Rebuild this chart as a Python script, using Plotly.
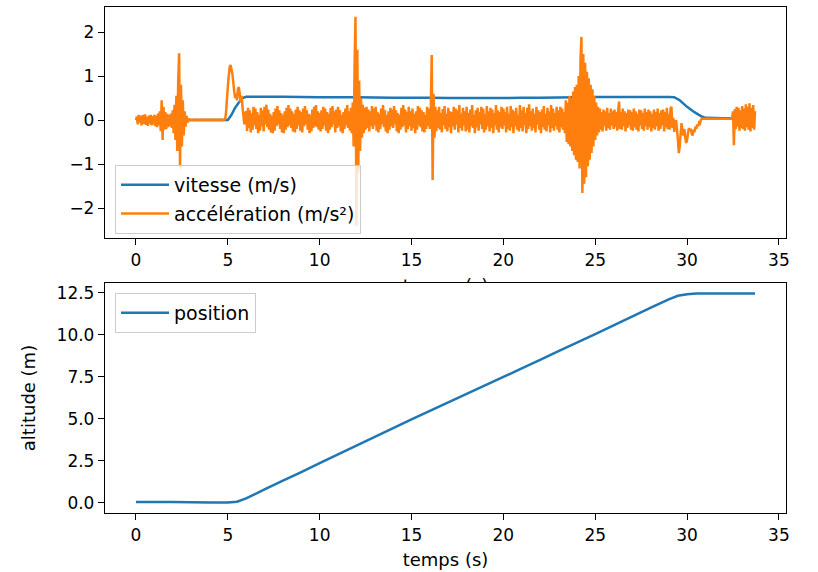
import numpy as np
import plotly.graph_objects as go

# ---------------- data ----------------
# acceleration sampled every 0.05 s from t = 0.00 to 33.70 s (values read from the picture)
acc_step = 0.05
acceleration = [
    # 0 s
    0.00, 0.08, -0.10, 0.12, -0.06, 0.10, -0.12, 0.05, 0.11, -0.09,
    0.13, -0.11, 0.07, -0.13, 0.10, -0.08, 0.12, -0.12, 0.09, -0.10,
    # 1 s
    0.12, -0.14, 0.10, -0.16, 0.15, -0.12, 0.20, -0.25, 0.45, -0.45,
    0.30, -0.22, 0.18, -0.20, 0.14, -0.16, 0.12, -0.14, 0.15, -0.18,
    # 2 s
    0.22, -0.30, 0.35, -0.45, 0.55, -0.70, 0.90, 1.52, -1.07, 0.80,
    -0.60, 0.45, -0.35, 0.20, -0.15, 0.10, -0.06, 0.04, -0.02, 0.01,
    # 3 s
    0.01, 0.00, 0.01, 0.00, 0.01, 0.00, 0.01, 0.00, 0.01, 0.00,
    0.01, 0.00, 0.01, 0.00, 0.01, 0.00, 0.01, 0.00, 0.01, 0.00,
    # 4 s
    0.01, 0.00, 0.01, 0.00, 0.01, 0.00, 0.01, 0.00, 0.01, 0.00,
    0.01, 0.00, 0.01, 0.00, 0.01, 0.00, 0.01, 0.02, 0.15, 0.45,
    # 5 s
    0.75, 1.00, 1.20, 1.25, 1.15, 1.05, 0.85, 0.65, 0.50, 0.60,
    0.45, 0.70, 0.75, 0.60, 0.40, 0.55, 0.30, 0.10, -0.10, 0.15,
    # 6 s
    0.20, -0.25, 0.28, -0.18, 0.22, -0.28, 0.15, -0.22, 0.30, -0.12,
    0.26, -0.20, 0.18, -0.30, 0.12, -0.24, 0.28, -0.14, 0.22, -0.26,
    # 7 s
    0.30, -0.10, 0.35, -0.16, 0.24, -0.22, 0.14, -0.28, 0.10, -0.30,
    0.18, -0.24, 0.26, -0.14, 0.32, -0.10, 0.22, -0.20, 0.16, -0.28,
    # 8 s
    0.12, -0.30, 0.20, -0.22, 0.28, -0.16, 0.34, -0.12, 0.26, -0.18,
    0.20, -0.26, 0.14, -0.28, 0.24, -0.20, 0.30, -0.12, 0.22, -0.24,
    # 9 s
    0.18, -0.28, 0.26, -0.14, 0.32, -0.10, 0.22, -0.22, 0.14, -0.30,
    0.12, -0.26, 0.24, -0.18, 0.30, -0.14, 0.34, -0.16, 0.20, -0.22,
    # 10 s
    0.16, -0.26, 0.22, -0.20, 0.30, -0.12, 0.26, -0.24, 0.18, -0.30,
    0.14, -0.22, 0.28, -0.16, 0.32, -0.10, 0.20, -0.28, 0.24, -0.18,
    # 11 s
    0.30, -0.14, 0.22, -0.26, 0.12, -0.30, 0.18, -0.20, 0.26, -0.12,
    0.34, -0.18, 0.20, -0.24, 0.28, -0.30, 0.40, -0.60, 1.20, 2.35,
    # 12 s
    -2.40, 1.60, -1.20, 0.90, -0.70, 0.50, -0.40, 0.35, -0.30, 0.28,
    -0.22, 0.30, -0.18, 0.24, -0.26, 0.20, -0.14, 0.32, -0.20, 0.26,
    # 13 s
    -0.12, 0.30, -0.24, 0.18, -0.28, 0.14, -0.20, 0.26, -0.10, 0.34,
    -0.16, 0.22, -0.26, 0.12, -0.30, 0.20, -0.22, 0.28, -0.14, 0.24,
    # 14 s
    -0.18, 0.32, -0.10, 0.22, -0.26, 0.16, -0.30, 0.12, -0.22, 0.28,
    -0.16, 0.34, -0.12, 0.24, -0.28, 0.18, -0.20, 0.30, -0.14, 0.20,
    # 15 s
    -0.24, 0.26, -0.18, 0.14, -0.30, 0.20, -0.22, 0.32, -0.12, 0.28,
    -0.16, 0.22, -0.26, 0.18, -0.28, 0.12, -0.20, 0.30, -0.14, 0.26,
    # 16 s
    -0.20, 0.30, 1.48, -1.36, 0.60, -0.40, 0.30, -0.25, 0.22, -0.18,
    0.30, -0.22, 0.16, -0.28, 0.25, -0.12, 0.32, -0.20, 0.14, -0.26,
    # 17 s
    0.28, -0.16, 0.20, -0.30, 0.18, -0.14, 0.30, -0.22, 0.26, -0.10,
    0.22, -0.28, 0.34, -0.18, 0.15, -0.24, 0.28, -0.12, 0.20, -0.26,
    # 18 s
    0.30, -0.22, 0.16, -0.28, 0.24, -0.14, 0.34, -0.18, 0.12, -0.30,
    0.22, -0.16, 0.28, -0.24, 0.18, -0.10, 0.30, -0.20, 0.26, -0.28,
    # 19 s
    0.14, -0.22, 0.32, -0.14, 0.20, -0.26, 0.28, -0.18, 0.24, -0.30,
    0.16, -0.12, 0.34, -0.22, 0.22, -0.28, 0.18, -0.16, 0.30, -0.20,
    # 20 s
    0.26, -0.12, 0.18, -0.28, 0.30, -0.20, 0.14, -0.24, 0.32, -0.16,
    0.24, -0.30, 0.20, -0.14, 0.28, -0.22, 0.12, -0.26, 0.34, -0.18,
    # 21 s
    0.22, -0.26, 0.30, -0.12, 0.16, -0.30, 0.28, -0.20, 0.36, -0.14,
    0.20, -0.24, 0.26, -0.18, 0.14, -0.28, 0.30, -0.10, 0.22, -0.22,
    # 22 s
    0.18, -0.30, 0.24, -0.16, 0.32, -0.22, 0.14, -0.26, 0.28, -0.12,
    0.20, -0.28, 0.34, -0.18, 0.26, -0.24, 0.16, -0.14, 0.30, -0.22,
    # 23 s
    0.22, -0.28, 0.30, -0.16, 0.26, -0.22, 0.18, -0.30, 0.45, -0.50,
    0.40, -0.55, 0.55, -0.60, 0.50, -0.70, 0.65, -0.80, 0.75, -0.90,
    # 24 s
    0.80, -0.95, 1.00, -1.10, 1.40, 1.89, -1.66, 1.50, -1.45, 1.30,
    -1.30, 1.10, -1.05, 0.95, -0.90, 0.80, -0.75, 0.70, -0.60, 0.55,
    # 25 s
    -0.45, 0.40, -0.35, 0.30, -0.28, 0.26, -0.22, 0.18, -0.26, 0.24,
    -0.14, 0.20, -0.24, 0.28, -0.18, 0.16, -0.22, 0.26, -0.12, 0.20,
    # 26 s
    -0.20, 0.24, -0.16, 0.18, -0.24, 0.22, 0.42, -0.20, 0.18, -0.22,
    0.26, -0.14, 0.20, -0.26, 0.16, -0.18, 0.24, -0.12, 0.22, -0.22,
    # 27 s
    0.18, -0.24, 0.26, -0.16, 0.20, -0.22, 0.14, -0.26, 0.24, -0.12,
    0.22, -0.20, 0.16, -0.24, 0.26, -0.14, 0.18, -0.22, 0.24, -0.16,
    # 28 s
    0.20, -0.26, 0.14, -0.18, 0.24, -0.22, 0.18, -0.14, 0.26, -0.24,
    0.16, -0.20, 0.22, -0.12, 0.24, -0.26, 0.18, -0.16, 0.28, -0.20,
    # 29 s
    0.14, -0.22, 0.26, 0.30, -0.18, 0.05, -0.27, -0.10, 0.00, -0.20,
    -0.45, -0.75, -0.60, -0.30, -0.07, -0.25, -0.35, -0.20, -0.40, -0.52,
    # 30 s
    -0.45, -0.30, -0.18, -0.25, -0.20, -0.30, -0.35, -0.22, -0.28, -0.15,
    -0.20, -0.10, -0.14, -0.06, -0.08, 0.00, 0.03, 0.03, 0.03, 0.03,
    # 31 s
    0.03, 0.03, 0.03, 0.03, 0.03, 0.03, 0.03, 0.03, 0.03, 0.03,
    0.03, 0.03, 0.03, 0.03, 0.03, 0.03, 0.03, 0.03, 0.03, 0.03,
    # 32 s
    0.03, 0.03, 0.03, 0.03, 0.03, 0.03, 0.03, 0.03, 0.03, 0.03,
    0.20, -0.57, 0.25, -0.20, 0.30, -0.15, 0.28, -0.24, 0.22, -0.18,
    # 33 s
    0.32, -0.20, 0.26, -0.24, 0.36, -0.16, 0.30, -0.22, 0.38, -0.26,
    0.28, -0.18, 0.34, -0.22, 0.20,
]
acc_time = np.round(np.arange(len(acceleration)) * acc_step, 3)

vit_time = [0, 2, 4, 5.0, 5.2, 5.4, 5.6, 5.8, 6.0, 7, 8, 9, 10, 11, 12, 13, 14, 15, 16, 17,
            18, 19, 20, 21, 22, 23, 24, 25, 26, 27, 28, 29, 29.3, 29.6, 30.0, 30.4, 30.8,
            31.0, 32, 33, 33.7]
vitesse = [0, 0, 0, 0, 0.12, 0.28, 0.40, 0.50, 0.53, 0.53, 0.53, 0.525, 0.52, 0.52, 0.52,
           0.515, 0.51, 0.51, 0.505, 0.50, 0.50, 0.50, 0.50, 0.505, 0.51, 0.515, 0.52, 0.525,
           0.525, 0.525, 0.525, 0.525, 0.52, 0.45, 0.30, 0.18, 0.08, 0.05, 0.04, 0.04, 0.04]

pos_time = [0, 1, 2, 3, 4, 5, 5.5, 6, 7, 8, 9, 10, 11, 12, 13, 14, 15, 16, 17, 18, 19, 20,
            21, 22, 23, 24, 25, 26, 27, 28, 29, 29.5, 30, 30.5, 31, 32, 33, 33.7]
position = [0.04, 0.035, 0.03, 0.02, 0.01, 0.0, 0.05, 0.25, 0.78, 1.30, 1.82, 2.35, 2.87,
            3.39, 3.91, 4.43, 4.95, 5.46, 5.97, 6.47, 6.98, 7.48, 7.99, 8.50, 9.01, 9.52,
            10.03, 10.55, 11.07, 11.59, 12.10, 12.31, 12.40, 12.44, 12.45, 12.45, 12.45, 12.45]

x_ticks = [0, 5, 10, 15, 20, 25, 30, 35]
top_y_ticks = [-2, -1, 0, 1, 2]
bottom_y_ticks = [0.0, 2.5, 5.0, 7.5, 10.0, 12.5]

# ---------------- figure ----------------
BLUE = "#1f77b4"
ORANGE = "#ff7f0e"
FONT = "DejaVu Sans"
FS = 17      # tick labels
FS_T = 18    # axis titles
FS_L = 19    # legend
LW = 2.5

fig = go.Figure()
fig.add_trace(go.Scatter(x=vit_time, y=vitesse, mode="lines", name="vitesse (m/s)",
                         line=dict(color=BLUE, width=LW, simplify=False), xaxis="x", yaxis="y",
                         legend="legend", legendgroup="a"))
fig.add_trace(go.Scatter(x=acc_time, y=acceleration, mode="lines", name="accélération (m/s²)",
                         line=dict(color=ORANGE, width=LW, simplify=False), xaxis="x", yaxis="y",
                         legend="legend", legendgroup="b"))
fig.add_trace(go.Scatter(x=pos_time, y=position, mode="lines", name="position",
                         line=dict(color=BLUE, width=LW, simplify=False), xaxis="x2", yaxis="y2",
                         legend="legend2"))
# x-label of the top panel, mostly hidden behind the lower panel
fig.add_trace(go.Scatter(x=[0.5], y=[-0.35], mode="text", text=["temps (s)"],
                         textfont=dict(family=FONT, size=FS_T, color="black"),
                         xaxis="x3", yaxis="y3", showlegend=False, cliponaxis=True,
                         hoverinfo="skip"))

axis_common = dict(showline=True, mirror=True, linecolor="black", linewidth=1.3,
                   ticks="outside", ticklen=6, tickwidth=1.3, tickcolor="black",
                   showgrid=False, zeroline=False, automargin=False,
                   tickfont=dict(family=FONT, size=FS, color="black"))

xr = [-1.685, 35.385]
fig.update_layout(
    width=818, height=572,
    margin=dict(l=105, r=32, t=7, b=59),
    paper_bgcolor="white", plot_bgcolor="white",
    font=dict(family=FONT, size=FS, color="black"),
    xaxis=dict(domain=[0, 1], anchor="y", range=xr, tickvals=x_ticks, **axis_common),
    yaxis=dict(domain=[0.5435, 1.0], anchor="x", range=[-2.68, 2.57], tickvals=top_y_ticks,
               **axis_common),
    xaxis2=dict(domain=[0, 1], anchor="y2", range=xr, tickvals=x_ticks,
                title=dict(text="temps (s)", standoff=9, font=dict(family=FONT, size=FS_T)),
                **axis_common),
    yaxis2=dict(domain=[0, 0.4545], anchor="x2", range=[-0.62, 13.07],
                tickvals=bottom_y_ticks, tickformat=".1f",
                title=dict(text="altitude (m)", standoff=16, font=dict(family=FONT, size=FS_T)),
                **axis_common),
    xaxis3=dict(domain=[0, 1], anchor="y3", range=[0, 1], visible=False),
    yaxis3=dict(domain=[0.4545, 0.4802], anchor="x3", range=[0, 1], visible=False),
    legend=dict(x=0.0147, y=0.6877, xanchor="left", yanchor="top",
                bgcolor="rgba(255,255,255,0.8)", bordercolor="#cccccc", borderwidth=1,
                font=dict(family=FONT, size=FS_L, color="black"),
                traceorder="grouped", tracegroupgap=1, itemwidth=48),
    legend2=dict(x=0.0147, y=0.4348, xanchor="left", yanchor="top",
                 bgcolor="rgba(255,255,255,0.8)", bordercolor="#cccccc", borderwidth=1,
                 font=dict(family=FONT, size=FS_L, color="black"), itemwidth=48),
    showlegend=True,
)

fig.write_html("out.html", config={"displayModeBar": False},
               post_script="document.body.style.margin='0';")
